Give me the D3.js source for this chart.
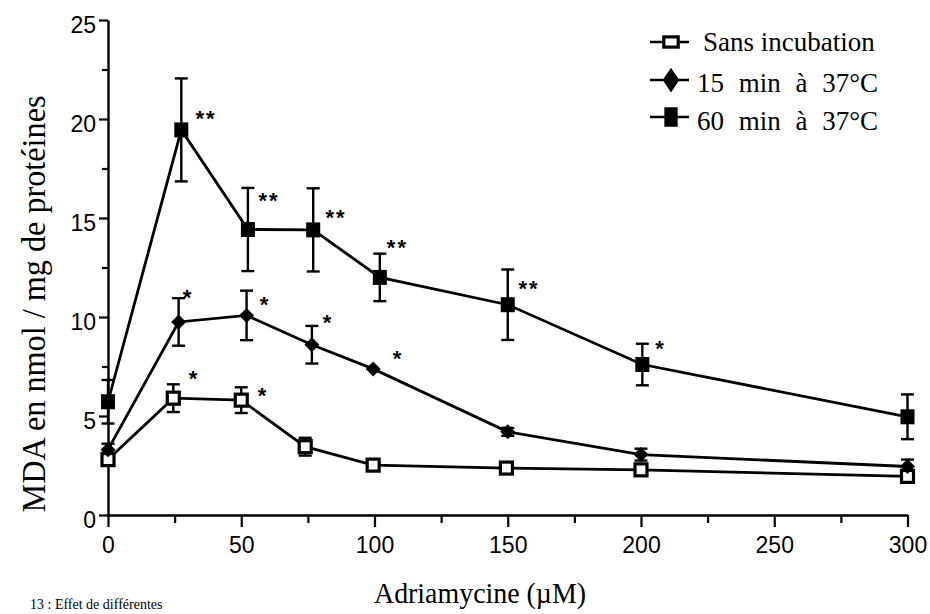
<!DOCTYPE html>
<html>
<head>
<meta charset="utf-8">
<script src="https://cdn.jsdelivr.net/npm/d3@7/dist/d3.min.js"></script>
<style>
  html, body { margin: 0; padding: 0; background: #fff; }
  svg { display: block; }
</style>
</head>
<body>
<svg id="chart" width="930" height="614"></svg>
<script>
// ---------------- DATA ----------------
const seriesNames = ["Sans incubation", "15 min à 37°C", "60 min à 37°C"];

const sansX   = [0, 24.5, 50, 74, 99.5, 149.5, 200, 300];
const sansY   = [2.8, 5.9, 5.8, 3.45, 2.52, 2.37, 2.28, 1.95];
const sansErr = [0.25, 0.7, 0.65, 0.45, 0.12, 0.2, 0.25, 0.25];

const d15X   = [0, 26.5, 52, 76.5, 99.5, 150, 200, 300];
const d15Y   = [3.3, 9.75, 10.08, 8.6, 7.38, 4.2, 3.05, 2.45];
const d15Err = [0.3, 1.2, 1.25, 0.95, 0.15, 0.2, 0.3, 0.35];

const d60X   = [0, 27.5, 52.5, 77, 102, 150, 200.5, 300];
const d60Y   = [5.72, 19.45, 14.42, 14.4, 12.0, 10.62, 7.6, 4.96];
const d60Err = [1.1, 2.6, 2.1, 2.1, 1.2, 1.78, 1.05, 1.13];

const xMajorTicks = [0, 50, 100, 150, 200, 250, 300];
const xMinorTicks = [25, 75, 125, 175, 225, 275];
const yMajorTicks = [0, 5, 10, 15, 20, 25];
const yMinorTicks = [2.5, 7.5, 12.5, 17.5, 22.5];

// significance annotations (centre, in data units)
const starLabel = ["**", "**", "**", "**", "**", "*", "*", "*", "*", "*", "*", "*"];
const starX     = [36.8, 60.4, 85.6, 108.6, 158.0, 207.3, 30.0, 58.9, 82.6, 108.8, 32.3, 58.2];
const starY     = [20.3, 16.16, 15.3, 13.79, 11.72, 8.69, 11.26, 10.91, 10.0, 8.18, 7.17, 6.31];

const xTitle = "Adriamycine (µM)";
const yTitle = "MDA en nmol / mg de protéines";
const captionFragment = "13 : Effet de différentes";

// ---------------- CHART ----------------
const svg = d3.select("#chart");
const x = d3.scaleLinear().domain([0, 300]).range([108, 907.5]);
const y = d3.scaleLinear().domain([0, 25]).range([515, 20]);

const ink = "#000";
const sansFont = "'Liberation Sans', Arial, sans-serif";
const serifFont = "'Liberation Serif', 'Times New Roman', serif";

// axes
const gY = svg.append("g").attr("transform", `translate(${x(0)},0)`);
gY.call(d3.axisLeft(y).tickValues(yMajorTicks).tickSize(9).tickSizeOuter(0).tickPadding(3).tickFormat(d3.format("d")));
const gYm = svg.append("g").attr("transform", `translate(${x(0)},0)`);
gYm.call(d3.axisLeft(y).tickValues(yMinorTicks).tickSize(6).tickSizeOuter(0).tickFormat(""));
gYm.select(".domain").remove();

const gX = svg.append("g").attr("transform", `translate(0,${y(0)})`);
gX.call(d3.axisBottom(x).tickValues(xMajorTicks).tickSize(12).tickSizeOuter(0).tickPadding(10).tickFormat(d3.format("d")));
const gXm = svg.append("g").attr("transform", `translate(0,${y(0)})`);
gXm.call(d3.axisBottom(x).tickValues(xMinorTicks).tickSize(8).tickSizeOuter(0).tickFormat(""));
gXm.select(".domain").remove();

svg.selectAll(".domain").attr("stroke", ink).attr("stroke-width", 2.4);
svg.selectAll(".tick line").attr("stroke", ink).attr("stroke-width", 2.2);
svg.selectAll(".tick text").attr("fill", ink).style("font-family", sansFont).style("font-size", "23px");
gY.selectAll(".tick text").attr("dy", "0.55em");

// axis titles
svg.append("text")
  .attr("x", 480).attr("y", 603)
  .attr("text-anchor", "middle")
  .attr("textLength", 212).attr("lengthAdjust", "spacingAndGlyphs")
  .style("font-family", serifFont).style("font-size", "29px").attr("fill", ink)
  .text(xTitle);

svg.append("text")
  .attr("transform", "translate(45,304) rotate(-90)")
  .attr("text-anchor", "middle")
  .attr("textLength", 417).attr("lengthAdjust", "spacingAndGlyphs")
  .style("font-family", serifFont).style("font-size", "33px").attr("fill", ink)
  .text(yTitle);

// fragment of the page caption below the chart
svg.append("text").attr("x", 30).attr("y", 609)
  .style("font-family", serifFont).style("font-size", "14px").attr("fill", ink)
  .text(captionFragment);

// series
function pts(xs, ys, es) { return xs.map((d, i) => ({ x: d, y: ys[i], e: es[i] })); }
const series = [
  { name: seriesNames[0], data: pts(sansX, sansY, sansErr), marker: "open" },
  { name: seriesNames[1], data: pts(d15X, d15Y, d15Err), marker: "diamond" },
  { name: seriesNames[2], data: pts(d60X, d60Y, d60Err), marker: "square" }
];

const line = d3.line().x(d => x(d.x)).y(d => y(d.y));
const plot = svg.append("g");

series.forEach(s => {
  plot.append("path").datum(s.data).attr("d", line)
    .attr("fill", "none").attr("stroke", ink).attr("stroke-width", 2.8);
});

series.forEach(s => {
  const g = plot.append("g");
  const eb = g.selectAll("g.eb").data(s.data.filter(d => d.e > 0.18)).join("g");
  eb.append("line").attr("x1", d => x(d.x)).attr("x2", d => x(d.x))
    .attr("y1", d => y(d.y + d.e)).attr("y2", d => y(d.y - d.e))
    .attr("stroke", ink).attr("stroke-width", 2.4);
  [1, -1].forEach(sg => {
    eb.append("line").attr("x1", d => x(d.x) - 6.5).attr("x2", d => x(d.x) + 6.5)
      .attr("y1", d => y(d.y + sg * d.e)).attr("y2", d => y(d.y + sg * d.e))
      .attr("stroke", ink).attr("stroke-width", 2.4);
  });
});

function drawMarker(g, type, cx, cy, scale) {
  scale = scale || { w: 1, h: 1 };
  if (type === "open") {
    g.append("rect").attr("x", cx - 6 * scale.w).attr("y", cy - 6 * scale.h)
      .attr("width", 12 * scale.w).attr("height", 12 * scale.h)
      .attr("fill", "#fff").attr("stroke", ink).attr("stroke-width", 3.2);
  } else if (type === "diamond") {
    const w = 7.5 * scale.w, h = 7.5 * scale.h;
    g.append("path").attr("d", `M${cx},${cy - h}L${cx + w},${cy}L${cx},${cy + h}L${cx - w},${cy}Z`)
      .attr("fill", ink);
  } else {
    g.append("rect").attr("x", cx - 7 * scale.w).attr("y", cy - 7.5 * scale.h)
      .attr("width", 14 * scale.w).attr("height", 15 * scale.h).attr("fill", ink);
  }
}

series.forEach(s => {
  const g = plot.append("g");
  s.data.forEach(d => drawMarker(g, s.marker, x(d.x), y(d.y)));
});

// stars
svg.append("g").selectAll("text").data(starLabel).join("text")
  .attr("x", (d, i) => x(starX[i])).attr("y", (d, i) => y(starY[i]))
  .attr("dy", "0.6em")
  .attr("text-anchor", "middle")
  .style("font-family", sansFont).style("font-size", "22px").style("font-weight", "bold")
  .style("letter-spacing", "2px")
  .attr("fill", ink)
  .text(d => d);

// legend
const legend = svg.append("g");
const legendRows = [
  { cy: 42, base: 51, marker: "open", scale: { w: 1.2, h: 0.85 } },
  { cy: 80, base: 92, marker: "diamond", scale: { w: 1.1, h: 1.65 } },
  { cy: 117, base: 130, marker: "square", scale: { w: 0.95, h: 1.3 } }
];
legendRows.forEach((r, i) => {
  legend.append("line").attr("x1", 650).attr("x2", 689).attr("y1", r.cy).attr("y2", r.cy)
    .attr("stroke", ink).attr("stroke-width", 2.4);
  drawMarker(legend, r.marker, 671, r.cy, r.scale);
  legend.append("text").attr("x", i === 0 ? 703 : 697).attr("y", r.base)
    .style("font-family", serifFont).style("font-size", "27px").attr("fill", ink)
    .style("word-spacing", i === 0 ? "0px" : "8px")
    .text(seriesNames[i]);
});
</script>
</body>
</html>
